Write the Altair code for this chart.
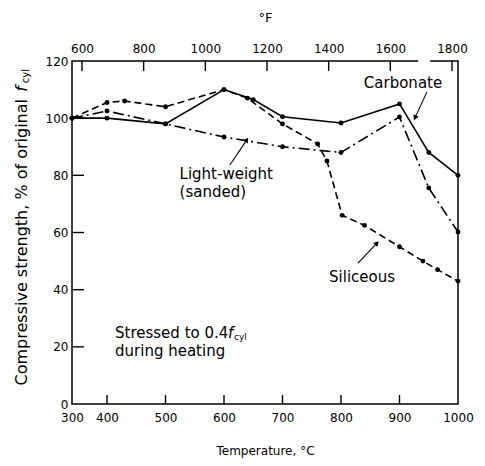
import altair as alt
import pandas as pd

# ---- data ----
carb_t = [300, 400, 500, 600, 650, 700, 800, 900, 950, 1000]
carb_v = [100, 100, 98, 110, 106.5, 100.5, 98.3, 105, 88, 80]

lw_t = [300, 400, 500, 600, 700, 800, 900, 950, 1000]
lw_v = [100, 102.5, 98, 93.4, 90, 88, 100.4, 75.6, 60.2]

sil_t = [300, 400, 430, 500, 600, 640, 700, 760, 776, 802, 840, 900, 940, 965, 1000]
sil_v = [100, 105.5, 106, 104, 110, 107, 98, 91, 85, 66, 62.5, 55, 50, 47, 43]

c_ticks = [300, 400, 500, 600, 700, 800, 900, 1000]
c_inner = [400, 500, 600, 700, 800, 900]
f_ticks = [600, 800, 1000, 1200, 1400, 1600, 1800]
y_ticks = [0, 20, 40, 60, 80, 100, 120]
y_inner = [20, 40, 60, 80, 100]

lab_text = ["Carbonate", "Light-weight", "(sanded)", "Siliceous"]
lab_t = [906, 524, 524, 836]
lab_v = [112.3, 80.5, 74.2, 44.4]
lab_align = ["center", "left", "left", "center"]

arr_t = [947, 610, 829]
arr_v = [109.2, 83.6, 49.3]
arr_t2 = [926.5, 639, 861.5]
arr_v2 = [100.1, 92.4, 56.3]
arr_ang = [205, 34, 43.5]

FONT = "DejaVu Sans"
W, H = 386, 343

xs = alt.Scale(domain=[300, 400, 1000], range=[0, 35, W])
ys = alt.Scale(domain=[0, 120], nice=False)
fs = alt.Scale(domain=[567.6, 1819.5], nice=False)

x_axis = alt.Axis(values=c_ticks, title="Temperature, °C", ticks=False, domain=False,
                  grid=False, labelPadding=8, titlePadding=22, labelFontSize=12,
                  titleFontSize=12, titleFontWeight="normal", labelFlush=False,
                  labelFont=FONT, titleFont=FONT, labelColor="black", titleColor="black",
                  format="d")
y_axis = alt.Axis(values=y_ticks, title=None, ticks=False, domain=False, grid=False,
                  labelPadding=4, labelFontSize=12, labelFont=FONT, labelColor="black",
                  labelFlush=False, format="d")


def X(f):
    return alt.X(f, scale=xs, axis=x_axis)


def Y(f):
    return alt.Y(f, scale=ys, axis=y_axis)


def series(t, v, dash, name):
    df = pd.DataFrame({"t": t, "v": v, "s": name})
    base = alt.Chart(df).encode(x=X("t:Q"), y=Y("v:Q"))
    kw = {"color": "black", "strokeWidth": 1.6}
    if dash:
        kw["strokeDash"] = dash
    line = base.mark_line(**kw)
    pts = base.mark_point(filled=True, color="black", size=24, opacity=1)
    return [line, pts]


layers = []
layers += series(carb_t, carb_v, None, "Carbonate")
layers += series(lw_t, lw_v, [11, 4, 2, 4], "Light-weight")
layers += series(sil_t, sil_v, [7, 4], "Siliceous")

# inward axis ticks drawn as short stroke symbols
ytk = alt.Chart(pd.DataFrame({"v": y_inner, "a": [317.1] * len(y_inner)})).mark_point(
    shape="stroke", filled=False, color="black", strokeWidth=1.4, size=144, opacity=1
).encode(x=X("a:Q"), y=Y("v:Q"))
xtk = alt.Chart(pd.DataFrame({"t": c_inner, "a": [1.57] * len(c_inner)})).mark_point(
    shape="stroke", angle=90, filled=False, color="black", strokeWidth=1.4, size=81,
    opacity=1).encode(x=X("t:Q"), y=Y("a:Q"))
layers += [ytk, xtk]

# labels
ldf = pd.DataFrame({"t": lab_t, "v": lab_v, "txt": lab_text, "al": lab_align})
for al in ["center", "left"]:
    layers.append(alt.Chart(ldf[ldf.al == al]).mark_text(
        align=al, baseline="middle", font=FONT, fontSize=15, color="black").encode(
        x=X("t:Q"), y=Y("v:Q"), text="txt:N"))

# arrows
adf = pd.DataFrame({"t": arr_t, "v": arr_v, "t2": arr_t2, "v2": arr_v2, "ang": arr_ang})
layers.append(alt.Chart(adf).mark_rule(color="black", strokeWidth=1.1).encode(
    x=X("t:Q"), y=Y("v:Q"), x2="t2:Q", y2="v2:Q"))
layers.append(alt.Chart(adf).mark_point(shape="triangle-up", filled=True, color="black",
                                        size=34, opacity=1).encode(
    x=X("t2:Q"), y=Y("v2:Q"), angle=alt.Angle("ang:Q", scale=None)))

# note text
note = pd.DataFrame({"t": [413.7, 413.7, 413.7, 413.7],
                     "v": [24.8, 24.8, 23.5, 18.7],
                     "txt": ["Stressed to 0.4", "f", "cyl", "during heating"],
                     "dx": [0, 113, 119, 0],
                     "fs": [15, 15, 9, 15],
                     "st": ["normal", "italic", "normal", "normal"]})
for i in range(len(note)):
    r = note.iloc[[i]]
    layers.append(alt.Chart(r).mark_text(
        align="left", baseline="middle", font=FONT, fontSize=float(r.fs.iloc[0]),
        fontStyle=r.st.iloc[0], dx=float(r.dx.iloc[0]), color="black").encode(
        x=X("t:Q"), y=Y("v:Q"), text="txt:N"))

# y axis title (rotated, with italic f and subscript)
yt_df = pd.DataFrame({"txt": ["Compressive strength, % of original", "f", "cyl"],
                      "px": [-50, -50, -46], "py": [38, 25, 8],
                      "fs": [16, 16, 10], "st": ["normal", "italic", "normal"]})
for i in range(len(yt_df)):
    r = yt_df.iloc[[i]]
    layers.append(alt.Chart(r).mark_text(
        align="right", baseline="middle", angle=270, font=FONT,
        fontSize=float(r.fs.iloc[0]), fontStyle=r.st.iloc[0], color="black").encode(
        x=alt.value(float(r.px.iloc[0])), y=alt.value(float(r.py.iloc[0])), text="txt:N"))

main = alt.layer(*layers)

# top Fahrenheit axis
f_axis = alt.Axis(orient="top", values=f_ticks, title="°F", ticks=False, domain=False,
                  grid=False, labelPadding=6, titlePadding=18, labelFontSize=12,
                  titleFontSize=13, titleFontWeight="normal", labelFont=FONT,
                  titleFont=FONT, labelColor="black", titleColor="black",
                  labelFlush=False, format="d")
gap_df = pd.DataFrame({"f": [1690.0], "f2": [1729.0], "a": [120.0]})
f_gap = alt.Chart(gap_df).mark_rule(color="white", strokeWidth=4).encode(
    x=alt.X("f:Q", scale=fs, axis=f_axis), x2="f2:Q", y=Y("a:Q"))
ftk = alt.Chart(pd.DataFrame({"f": f_ticks, "a": [118.25] * len(f_ticks)})).mark_point(
    shape="stroke", angle=90, filled=False, color="black", strokeWidth=1.4, size=100,
    opacity=1).encode(x=alt.X("f:Q", scale=fs, axis=f_axis), y=Y("a:Q"))
f_layer = alt.layer(f_gap, ftk)

chart = alt.layer(main, f_layer).resolve_scale(x="independent").properties(
    width=W, height=H,
    autosize=alt.AutoSizeParams(type="none"),
    padding={"left": 72, "top": 61, "right": 27, "bottom": 62},
    background="white",
).configure_view(stroke="black", strokeWidth=1.5)

chart.save("out.html", embed_options={"renderer": "svg", "actions": False})
